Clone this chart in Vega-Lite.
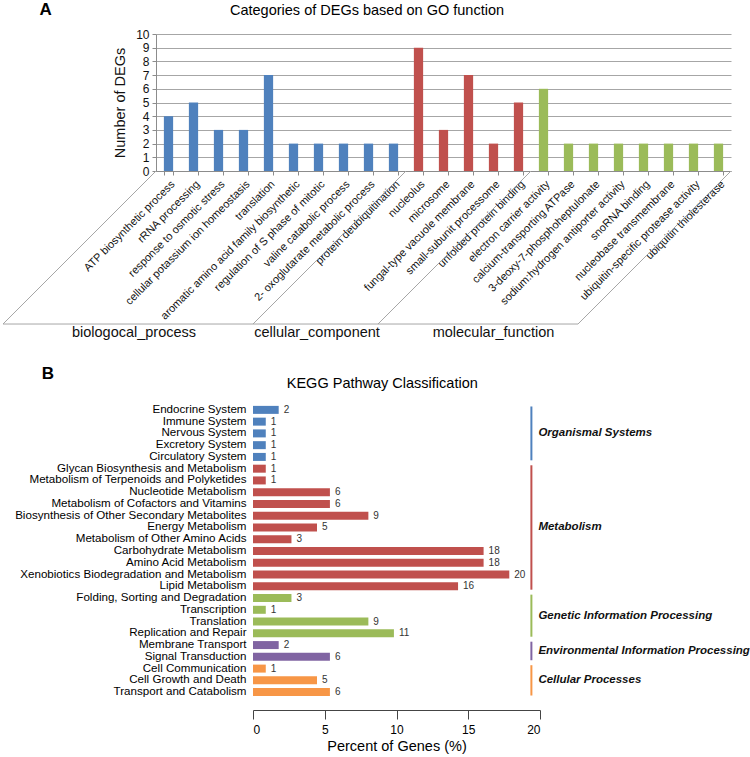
{
  "$schema": "https://vega.github.io/schema/vega-lite/v6.json",
  "padding": {"left": 2, "right": 2, "top": 0, "bottom": 2},
  "spacing": 24,
  "resolve": {"scale": {"color": "independent"}},
  "config": {
    "font": "Liberation Sans",
    "view": {"stroke": null},
    "title": {"fontWeight": "normal", "color": "#000"}
  },
  "datasets": {
    "go": [
      {"term": "ATP biosynthetic process", "category": "biological_process", "count": 4},
      {"term": "rRNA processing", "category": "biological_process", "count": 5},
      {"term": "response to osmotic stress", "category": "biological_process", "count": 3},
      {"term": "cellular potassium ion homeostasis", "category": "biological_process", "count": 3},
      {"term": "translation", "category": "biological_process", "count": 7},
      {"term": "aromatic amino acid family biosynthetic", "category": "biological_process", "count": 2},
      {"term": "regulation of S phase of mitotic", "category": "biological_process", "count": 2},
      {"term": "valine catabolic process", "category": "biological_process", "count": 2},
      {"term": "2- oxoglutarate metabolic process", "category": "biological_process", "count": 2},
      {"term": "protein deubiquitination", "category": "biological_process", "count": 2},
      {"term": "nucleolus", "category": "cellular_component", "count": 9},
      {"term": "microsome", "category": "cellular_component", "count": 3},
      {"term": "fungal-type vacuole membrane", "category": "cellular_component", "count": 7},
      {"term": "small-subunit processome", "category": "cellular_component", "count": 2},
      {"term": "unfolded protein binding", "category": "cellular_component", "count": 5},
      {"term": "electron carrier activity", "category": "molecular_function", "count": 6},
      {"term": "calcium-transporting ATPase", "category": "molecular_function", "count": 2},
      {"term": "3-deoxy-7-phosphoheptulonate", "category": "molecular_function", "count": 2},
      {"term": "sodium:hydrogen antiporter activity", "category": "molecular_function", "count": 2},
      {"term": "snoRNA binding", "category": "molecular_function", "count": 2},
      {"term": "nucleobase transmembrane", "category": "molecular_function", "count": 2},
      {"term": "ubiquitin-specific protease activity", "category": "molecular_function", "count": 2},
      {"term": "ubiquitin thiolesterase", "category": "molecular_function", "count": 2}
    ],
    "floor": [
      {"x1": 0, "y1": 0, "x2": -6.12, "y2": -11.17},
      {"x1": 10, "y1": 0, "x2": 3.88, "y2": -11.17},
      {"x1": 15, "y1": 0, "x2": 8.88, "y2": -11.17},
      {"x1": 23, "y1": 0, "x2": 16.88, "y2": -11.17},
      {"x1": -6.12, "y1": -11.17, "x2": 16.88, "y2": -11.17}
    ],
    "floorLabels": [
      {"label": "biologocal_process", "x": -0.88, "y": -11.85},
      {"label": "cellular_component", "x": 6.44, "y": -11.85},
      {"label": "molecular_function", "x": 13.5, "y": -11.85}
    ],
    "kegg": [
      {"pathway": "Endocrine System", "group": "Organismal Systems", "genes": 2, "pct": 1.79},
      {"pathway": "Immune System", "group": "Organismal Systems", "genes": 1, "pct": 0.89},
      {"pathway": "Nervous System", "group": "Organismal Systems", "genes": 1, "pct": 0.89},
      {"pathway": "Excretory System", "group": "Organismal Systems", "genes": 1, "pct": 0.89},
      {"pathway": "Circulatory System", "group": "Organismal Systems", "genes": 1, "pct": 0.89},
      {"pathway": "Glycan Biosynthesis and Metabolism", "group": "Metabolism", "genes": 1, "pct": 0.89},
      {"pathway": "Metabolism of Terpenoids and Polyketides", "group": "Metabolism", "genes": 1, "pct": 0.89},
      {"pathway": "Nucleotide Metabolism", "group": "Metabolism", "genes": 6, "pct": 5.36},
      {"pathway": "Metabolism of Cofactors and Vitamins", "group": "Metabolism", "genes": 6, "pct": 5.36},
      {"pathway": "Biosynthesis of Other Secondary Metabolites", "group": "Metabolism", "genes": 9, "pct": 8.04},
      {"pathway": "Energy Metabolism", "group": "Metabolism", "genes": 5, "pct": 4.46},
      {"pathway": "Metabolism of Other Amino Acids", "group": "Metabolism", "genes": 3, "pct": 2.68},
      {"pathway": "Carbohydrate Metabolism", "group": "Metabolism", "genes": 18, "pct": 16.07},
      {"pathway": "Amino Acid Metabolism", "group": "Metabolism", "genes": 18, "pct": 16.07},
      {"pathway": "Xenobiotics Biodegradation and Metabolism", "group": "Metabolism", "genes": 20, "pct": 17.86},
      {"pathway": "Lipid Metabolism", "group": "Metabolism", "genes": 16, "pct": 14.29},
      {"pathway": "Folding, Sorting and Degradation", "group": "Genetic Information Processing", "genes": 3, "pct": 2.68},
      {"pathway": "Transcription", "group": "Genetic Information Processing", "genes": 1, "pct": 0.89},
      {"pathway": "Translation", "group": "Genetic Information Processing", "genes": 9, "pct": 8.04},
      {"pathway": "Replication and Repair", "group": "Genetic Information Processing", "genes": 11, "pct": 9.82},
      {"pathway": "Membrane Transport", "group": "Environmental Information Processing", "genes": 2, "pct": 1.79},
      {"pathway": "Signal Transduction", "group": "Environmental Information Processing", "genes": 6, "pct": 5.36},
      {"pathway": "Cell Communication", "group": "Cellular Processes", "genes": 1, "pct": 0.89},
      {"pathway": "Cell Growth and Death", "group": "Cellular Processes", "genes": 5, "pct": 4.46},
      {"pathway": "Transport and Catabolism", "group": "Cellular Processes", "genes": 6, "pct": 5.36}
    ],
    "brackets": [
      {"group": "Organismal Systems", "first": "Endocrine System", "last": "Circulatory System", "mid": "Nervous System", "even": false},
      {"group": "Metabolism", "first": "Glycan Biosynthesis and Metabolism", "last": "Lipid Metabolism", "mid": "Energy Metabolism", "even": false},
      {"group": "Genetic Information Processing", "first": "Folding, Sorting and Degradation", "last": "Replication and Repair", "mid": "Transcription", "even": true},
      {"group": "Environmental Information Processing", "first": "Membrane Transport", "last": "Signal Transduction", "mid": "Membrane Transport", "even": true},
      {"group": "Cellular Processes", "first": "Cell Communication", "last": "Transport and Catabolism", "mid": "Cell Growth and Death", "even": false}
    ]
  },
  "vconcat": [
    {
      "title": {"text": "A", "anchor": "start", "frame": "bounds", "fontSize": 17, "fontWeight": "bold", "dx": 37, "offset": -16},
      "vconcat": [
        {
          "title": {"text": "Categories of DEGs based on GO function", "anchor": "middle", "frame": "bounds", "fontSize": 14.5, "offset": 10},
          "width": 575,
          "height": 137,
          "layer": [
            {
              "data": {"name": "go"},
              "mark": {"type": "bar"},
              "encoding": {
                "x": {
                  "field": "term", "type": "nominal", "sort": null,
                  "scale": {"paddingInner": 0.63, "paddingOuter": 0.315},
                  "axis": {"title": null, "labelAngle": -45, "labelFontSize": 11, "labelColor": "#111", "labelPadding": 3, "labelLimit": 400, "tickBand": "extent", "tickSize": 4, "domainColor": "#8c8c8c", "tickColor": "#8c8c8c"}
                },
                "y": {
                  "field": "count", "type": "quantitative",
                  "scale": {"domain": [0, 10], "nice": false},
                  "axis": {"title": "Number of DEGs", "values": [0,1,2,3,4,5,6,7,8,9,10], "grid": true, "gridColor": "#a6a6a6", "domainColor": "#8c8c8c", "tickColor": "#8c8c8c", "tickSize": 4, "labelFontSize": 12, "labelColor": "#111", "labelPadding": 3, "titleFontSize": 14.5, "titleFontWeight": "normal", "titleColor": "#111", "titlePadding": 8}
                },
                "color": {
                  "field": "category", "type": "nominal",
                  "scale": {"domain": ["biological_process", "cellular_component", "molecular_function"], "range": ["#4f81bd", "#c0504d", "#9bbb59"]},
                  "legend": null
                }
              }
            },
            {
              "data": {"name": "floor"},
              "mark": {"type": "rule", "color": "#a6a6a6", "strokeWidth": 1},
              "encoding": {
                "x": {"field": "x1", "type": "quantitative", "scale": {"domain": [0, 23], "nice": false, "zero": false}, "axis": null},
                "x2": {"field": "x2"},
                "y": {"field": "y1", "type": "quantitative", "scale": {"domain": [0, 10], "nice": false, "zero": false}, "axis": null},
                "y2": {"field": "y2"}
              }
            },
            {
              "data": {"name": "floorLabels"},
              "mark": {"type": "text", "fontSize": 14.5, "color": "#111", "baseline": "middle", "align": "center"},
              "encoding": {
                "x": {"field": "x", "type": "quantitative", "scale": {"domain": [0, 23], "nice": false, "zero": false}, "axis": null},
                "y": {"field": "y", "type": "quantitative", "scale": {"domain": [0, 10], "nice": false, "zero": false}, "axis": null},
                "text": {"field": "label"}
              }
            }
          ],
          "resolve": {"scale": {"x": "independent", "y": "independent"}}
        }
      ]
    },
    {
      "title": {"text": "B", "anchor": "start", "frame": "bounds", "fontSize": 17, "fontWeight": "bold", "dx": 27, "offset": -7},
      "vconcat": [
        {
          "title": {"text": "KEGG Pathway Classification", "anchor": "middle", "frame": "bounds", "fontSize": 14.5, "offset": 12},
          "width": 384,
          "height": 294,
          "encoding": {
            "y": {
              "field": "pathway", "type": "nominal",
              "scale": {"domain": ["Endocrine System", "Immune System", "Nervous System", "Excretory System", "Circulatory System", "Glycan Biosynthesis and Metabolism", "Metabolism of Terpenoids and Polyketides", "Nucleotide Metabolism", "Metabolism of Cofactors and Vitamins", "Biosynthesis of Other Secondary Metabolites", "Energy Metabolism", "Metabolism of Other Amino Acids", "Carbohydrate Metabolism", "Amino Acid Metabolism", "Xenobiotics Biodegradation and Metabolism", "Lipid Metabolism", "Folding, Sorting and Degradation", "Transcription", "Translation", "Replication and Repair", "Membrane Transport", "Signal Transduction", "Cell Communication", "Cell Growth and Death", "Transport and Catabolism"], "paddingInner": 0.32, "paddingOuter": 0.16},
              "axis": {"title": null, "domain": false, "ticks": false, "labelPadding": 7, "offset": -97, "labelFontSize": 11.6, "labelColor": "#000", "labelLimit": 400}
            }
          },
          "layer": [
            {
              "data": {"name": "kegg"},
              "mark": {"type": "bar"},
              "encoding": {
                "x": {
                  "field": "pct", "type": "quantitative",
                  "scale": {"domain": [0, 20], "nice": false, "range": [97, 384]},
                  "axis": {"title": "Percent of Genes (%)", "values": [0, 5, 10, 15, 20], "grid": false, "offset": 12, "tickSize": 9, "domainColor": "#444", "tickColor": "#444", "labelFontSize": 12, "labelColor": "#000", "labelPadding": 5, "titleFontSize": 14.5, "titleFontWeight": "normal", "titleColor": "#000", "titlePadding": 4}
                },
                "color": {
                  "field": "group", "type": "nominal",
                  "scale": {"domain": ["Organismal Systems", "Metabolism", "Genetic Information Processing", "Environmental Information Processing", "Cellular Processes"], "range": ["#4f81bd", "#c0504d", "#9bbb59", "#8064a2", "#f79646"]},
                  "legend": null
                }
              }
            },
            {
              "data": {"name": "kegg"},
              "mark": {"type": "text", "align": "left", "baseline": "middle", "dx": 5, "fontSize": 10, "color": "#333"},
              "encoding": {
                "x": {"field": "pct", "type": "quantitative"},
                "text": {"field": "genes"}
              }
            },
            {
              "data": {"name": "brackets"},
              "mark": {"type": "rule", "strokeWidth": 2, "yOffset": -3.4, "y2Offset": 3.4},
              "encoding": {
                "x": {"datum": 19.4, "type": "quantitative"},
                "y": {"field": "first", "type": "nominal"},
                "y2": {"field": "last"},
                "color": {"field": "group", "type": "nominal"}
              }
            },
            {
              "data": {"name": "brackets"},
              "transform": [{"filter": "!datum.even"}],
              "mark": {"type": "text", "align": "left", "baseline": "middle", "dx": 7, "fontSize": 11.5, "fontWeight": "bold", "fontStyle": "italic", "color": "#111"},
              "encoding": {
                "x": {"datum": 19.4, "type": "quantitative"},
                "y": {"field": "mid", "type": "nominal"},
                "text": {"field": "group"}
              }
            },
            {
              "data": {"name": "brackets"},
              "transform": [{"filter": "datum.even"}],
              "mark": {"type": "text", "align": "left", "baseline": "middle", "dx": 7, "fontSize": 11.5, "fontWeight": "bold", "fontStyle": "italic", "color": "#111"},
              "encoding": {
                "x": {"datum": 19.4, "type": "quantitative"},
                "y": {"field": "mid", "type": "nominal", "bandPosition": 1.23},
                "text": {"field": "group"}
              }
            }
          ]
        }
      ]
    }
  ]
}
